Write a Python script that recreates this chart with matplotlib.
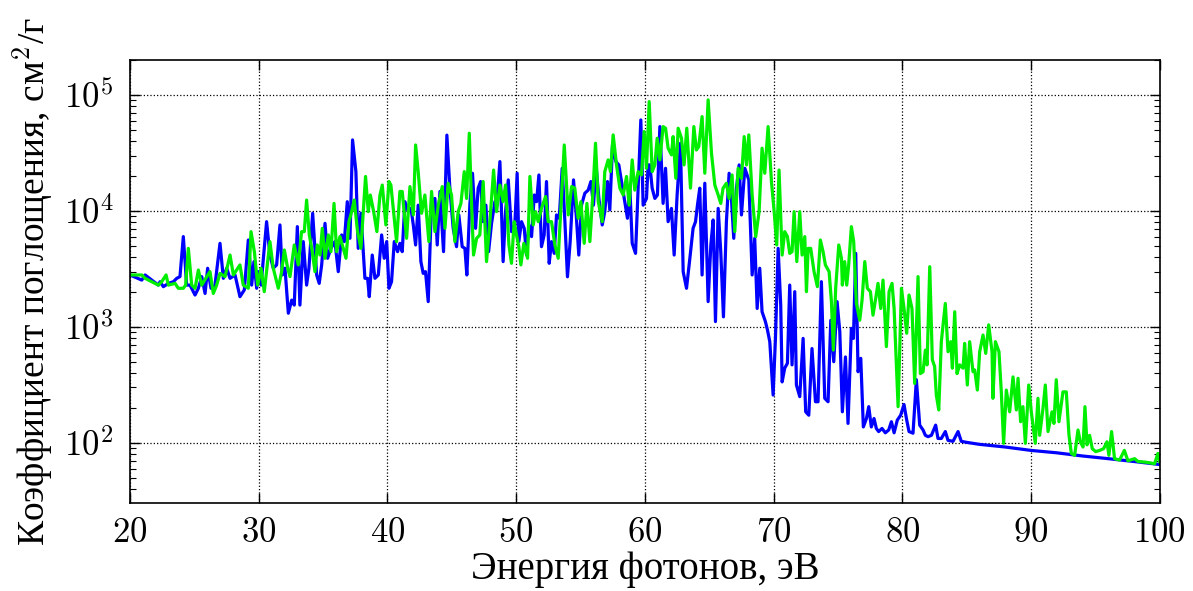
import numpy as np
import matplotlib.pyplot as plt
from matplotlib.ticker import FuncFormatter, FixedLocator, LogLocator, NullLocator

# photon energy, eV / absorption coefficient, cm^2/g  (blue curve)
e_blue = [20.0, 20.91, 21.17, 22.20, 22.33, 22.59, 22.98, 23.37, 23.63, 23.88,
          24.14, 24.40, 24.66, 25.05, 25.31, 25.57, 25.83, 26.03, 26.29, 26.60,
          26.99, 27.25, 27.51, 27.77, 28.16, 28.54, 28.88, 29.19, 29.45, 29.63,
          29.84, 29.97, 30.18, 30.61, 30.87, 31.13, 31.39, 31.65, 31.83, 32.04,
          32.30, 32.56, 32.76, 33.00, 33.20, 33.46, 33.72, 33.90, 34.19, 34.50,
          34.70, 34.89, 35.15, 35.35, 35.61, 35.92, 36.18, 36.44, 36.65, 36.88,
          37.09, 37.29, 37.55, 37.73, 37.94, 38.25, 38.46, 38.59, 38.82, 39.03,
          39.29, 39.55, 39.75, 39.94, 40.12, 40.32, 40.53, 40.79, 40.97, 41.15,
          41.36, 41.57, 41.83, 42.01, 42.19, 42.39, 42.60, 42.78, 42.96, 43.17,
          43.43, 43.69, 43.87, 44.08, 44.36, 44.62, 44.85, 45.11, 45.37, 45.55,
          45.81, 46.02, 46.17, 46.41, 46.61, 46.85, 47.05, 47.24, 47.44, 47.65,
          47.86, 48.09, 48.35, 48.53, 48.74, 48.99, 49.18, 49.39, 49.64, 49.90,
          50.08, 50.21, 50.42, 50.63, 50.81, 50.99, 51.20, 51.41, 51.59, 51.77,
          51.97, 52.18, 52.36, 52.57, 52.75, 52.96, 53.14, 53.35, 53.58, 53.79,
          53.99, 54.20, 54.46, 54.67, 54.87, 55.08, 55.34, 55.60, 55.81, 56.01,
          56.22, 56.43, 56.69, 56.89, 57.10, 57.28, 57.49, 57.75, 57.98, 58.19,
          58.45, 58.65, 58.84, 59.02, 59.28, 59.48, 59.69, 59.87, 60.13, 60.26,
          60.39, 60.57, 60.78, 60.98, 61.17, 61.42, 61.61, 61.81, 62.07, 62.28,
          62.51, 62.77, 62.98, 63.24, 63.50, 63.75, 63.94, 64.09, 64.27, 64.45,
          64.66, 64.92, 65.13, 65.31, 65.49, 65.70, 65.90, 66.11, 66.34, 66.55,
          66.73, 66.91, 67.12, 67.33, 67.51, 67.77, 68.08, 68.34, 68.54, 68.73,
          68.93, 69.11, 69.37, 69.53, 69.71, 69.97, 70.15, 70.36, 70.56, 70.67,
          70.87, 71.08, 71.26, 71.44, 71.65, 71.78, 72.04, 72.30, 72.50, 72.74,
          72.99, 73.26, 73.46, 73.72, 73.98, 74.24, 74.45, 74.68, 74.94, 75.15,
          75.35, 75.59, 75.79, 76.05, 76.21, 76.39, 76.57, 76.78, 76.98, 77.22,
          77.40, 77.60, 77.81, 77.99, 78.17, 78.43, 78.69, 78.95, 79.16, 79.37,
          79.62, 79.88, 80.14, 80.35, 80.53, 80.84, 81.10, 81.36, 81.62, 81.80,
          82.01, 82.27, 82.60, 82.78, 83.04, 83.35, 83.56, 83.95, 84.34, 84.59,
          84.98, 86.0, 88.0, 90.0, 92.0, 94.0, 96.0, 98.0, 100.0]
mu_blue = [2800, 2530, 2800, 2290, 2450, 2220, 2370, 2450, 2620, 2710,
           6000, 2290, 2290, 1880, 2150, 2710, 1940, 3200, 2150, 2290,
           5250, 2620, 3200, 2620, 2800, 1820, 2080, 5610, 2290, 3650,
           2150, 2990, 2290, 8070, 4160, 3200, 3420, 7560, 2800, 3200,
           1310, 1700, 1540, 7310, 1540, 5430, 2290, 3200, 9530, 2800,
           2370, 3420, 7810, 3900, 4750, 5430, 2990, 6200, 5430, 12000,
           5800, 40900, 21800, 4750, 9530, 2620, 2620, 1820, 4160, 2620,
           2800, 6200, 3900, 5430, 2150, 2450, 5430, 4450, 5250, 4450,
           12000, 10200, 10500, 7560, 5080, 11200, 3650, 2890, 2990, 1650,
           12000, 12800, 5080, 14700, 4450, 45000, 15700, 7070, 4910, 9220,
           4910, 4750, 2800, 11600, 21100, 7070, 15700, 17900, 8070, 11200,
           4450, 7810, 12000, 12800, 26600, 3650, 9850, 18500, 6620, 7560,
           21100, 5430, 8070, 7070, 4160, 7560, 6000, 13700, 12000, 20400,
           4910, 6200, 17900, 3530, 5430, 4300, 9220, 8630, 23300, 8070,
           2700, 5430, 18500, 9220, 4160, 11200, 14200, 15100, 17900, 11200,
           24100, 12800, 7560, 9850, 17900, 10200, 37000, 26600, 24900, 17900,
           12000, 8630, 15700, 5250, 4300, 15700, 60800, 11200, 12800, 24900,
           24900, 15700, 12800, 13700, 53300, 11600, 23300, 8070, 10500, 4160,
           13700, 38300, 2990, 2150, 3900, 7070, 8070, 11200, 15700, 2800,
           17300, 1650, 5080, 8350, 1110, 10500, 4450, 1220, 8070, 21100,
           12800, 5800, 15700, 24900, 9220, 23300, 18500, 2800, 5800, 1440,
           3200, 1350, 1110, 940, 745, 258, 795, 4750, 1540, 335,
           440, 485, 2290, 470, 2010, 315, 250, 795, 185, 173,
           650, 226, 226, 2450, 242, 226, 1140, 500, 1650, 910,
           185, 550, 147, 970, 795, 4300, 410, 535, 137, 162,
           205, 137, 162, 133, 125, 133, 122, 129, 152, 122,
           157, 173, 214, 157, 125, 121, 350, 142, 129, 116,
           113, 116, 142, 109, 109, 125, 105, 103, 125, 103,
           101, 97, 92, 86, 82, 77, 73, 69, 65]

# green curve
e_green = [20.0, 20.91, 21.17, 21.68, 22.20, 22.46, 22.80, 22.98, 23.50, 23.75,
           24.14, 24.32, 24.53, 24.79, 25.05, 25.31, 25.57, 25.96, 26.21, 26.47,
           26.73, 26.99, 27.38, 27.77, 28.03, 28.54, 28.80, 29.19, 29.40, 29.66,
           29.92, 30.18, 30.43, 30.87, 31.13, 31.52, 31.78, 31.99, 32.25, 32.43,
           32.76, 33.07, 33.33, 33.54, 33.72, 33.93, 34.16, 34.37, 34.55, 34.76,
           34.94, 35.15, 35.41, 35.61, 35.85, 36.05, 36.31, 36.57, 36.78, 37.01,
           37.22, 37.42, 37.68, 37.94, 38.30, 38.51, 38.67, 38.93, 39.18, 39.42,
           39.60, 39.88, 40.12, 40.27, 40.45, 40.71, 40.97, 41.15, 41.49, 41.75,
           42.01, 42.19, 42.39, 42.65, 42.91, 43.22, 43.43, 43.69, 43.95, 44.26,
           44.47, 44.72, 44.98, 45.24, 45.50, 45.71, 45.97, 46.15, 46.36, 46.54,
           46.69, 46.93, 47.18, 47.44, 47.70, 47.96, 48.25, 48.48, 48.74, 48.99,
           49.18, 49.44, 49.64, 49.85, 50.03, 50.21, 50.37, 50.60, 50.89, 51.07,
           51.33, 51.51, 51.72, 51.97, 52.29, 52.49, 52.75, 53.01, 53.27, 53.53,
           53.74, 54.05, 54.31, 54.56, 54.82, 55.03, 55.29, 55.50, 55.73, 55.94,
           56.17, 56.38, 56.69, 56.89, 57.15, 57.33, 57.54, 57.80, 58.06, 58.32,
           58.58, 58.78, 59.02, 59.22, 59.48, 59.74, 59.95, 60.13, 60.34, 60.57,
           60.78, 60.96, 61.17, 61.42, 61.61, 61.81, 62.07, 62.20, 62.41, 62.59,
           62.85, 63.05, 63.26, 63.55, 63.81, 64.01, 64.19, 64.45, 64.66, 64.92,
           65.18, 65.44, 65.70, 65.90, 66.08, 66.34, 66.55, 66.78, 66.99, 67.25,
           67.51, 67.72, 67.90, 68.08, 68.34, 68.62, 68.88, 69.11, 69.32, 69.58,
           69.84, 70.05, 70.25, 70.43, 70.67, 70.87, 71.08, 71.26, 71.44, 71.60,
           71.81, 72.04, 72.22, 72.43, 72.56, 72.69, 72.89, 73.15, 73.41, 73.64,
           73.85, 74.03, 74.32, 74.50, 74.65, 74.83, 75.07, 75.28, 75.35, 75.53,
           75.69, 75.84, 76.05, 76.23, 76.44, 76.70, 76.88, 77.09, 77.29, 77.53,
           77.73, 77.92, 78.12, 78.33, 78.51, 78.77, 78.98, 79.21, 79.37, 79.68,
           79.94, 80.14, 80.35, 80.53, 80.76, 80.97, 81.23, 81.41, 81.62, 81.80,
           81.93, 82.14, 82.34, 82.52, 82.65, 82.84, 83.04, 83.35, 83.56, 83.77,
           83.90, 84.08, 84.26, 84.47, 84.73, 84.85, 85.06, 85.24, 85.50, 85.63,
           85.84, 86.02, 86.28, 86.49, 86.72, 86.98, 87.05, 87.24, 87.52, 87.70,
           87.88, 88.09, 88.35, 88.61, 88.87, 89.00, 89.20, 89.38, 89.57, 89.83,
           90.03, 90.34, 90.55, 90.68, 90.94, 91.12, 91.33, 91.64, 91.79, 91.97,
           92.18, 92.49, 92.75, 92.96, 93.14, 93.40, 93.66, 93.84, 94.05, 94.20,
           94.36, 94.56, 94.77, 95.03, 95.34, 95.65, 95.91, 96.06, 96.27, 96.50,
           96.89, 97.26, 97.54, 98.06, 98.32, 98.96, 99.61, 99.87, 100.0]
mu_green = [2800, 2800, 2620, 2450, 2290, 2450, 2800, 2290, 2370, 2150,
            2150, 2290, 4750, 2290, 2150, 3090, 2290, 2710, 2990, 1940,
            2290, 2890, 2710, 4160, 2800, 3420, 2290, 2150, 6620, 4450,
            2290, 3200, 2010, 5430, 3200, 2150, 2990, 4600, 3200, 2710,
            5080, 3420, 6620, 6620, 12400, 6200, 4450, 2990, 5080, 4160,
            7070, 3900, 6200, 4450, 11600, 4450, 6000, 4750, 3900, 8070,
            9850, 12400, 6620, 4750, 19800, 9850, 13700, 9850, 6620, 13700,
            16700, 7560, 17900, 16700, 10500, 5430, 14700, 14700, 5800, 16200,
            9220, 37000, 21800, 9530, 13700, 5430, 14700, 6620, 11200, 16200,
            7070, 17300, 13700, 5430, 9850, 11600, 21800, 12800, 46700, 11200,
            4160, 5800, 6200, 17900, 3650, 8070, 22500, 9850, 16700, 12000,
            16700, 5080, 3530, 8070, 6200, 4910, 3420, 5250, 3900, 19800,
            7560, 9850, 8070, 10500, 13300, 8070, 8070, 5080, 3900, 13700,
            37000, 9220, 16200, 15700, 8630, 12000, 5250, 11600, 5430, 12800,
            38300, 12000, 8070, 21800, 27500, 21800, 45200, 24900, 15700, 13700,
            19800, 11200, 27500, 15100, 21800, 20400, 48300, 23300, 87500, 21800,
            24900, 42300, 27500, 53300, 51600, 34700, 30400, 43700, 19100, 51600,
            42300, 24900, 51600, 15700, 53300, 33500, 35800, 65000, 21100, 90600,
            31400, 16700, 13700, 11600, 15700, 17300, 12800, 20400, 6620, 23300,
            19100, 43700, 24900, 45200, 13700, 6000, 9850, 34700, 21100, 53300,
            17900, 9850, 5080, 22500, 4160, 6620, 6000, 4300, 4450, 9850,
            3650, 9850, 4160, 6000, 2010, 4750, 4750, 2990, 2220, 5610,
            4450, 3420, 2990, 1650, 630, 2150, 5080, 3900, 2290, 3650,
            2290, 3420, 7310, 5430, 1590, 1140, 1700, 3650, 2150, 2010,
            1260, 1700, 2370, 1440, 2530, 675, 2010, 2370, 1440, 205,
            2150, 1440, 880, 1880, 1440, 325, 2710, 395, 410, 630,
            470, 3300, 520, 455, 258, 192, 745, 1590, 610, 745,
            440, 1350, 395, 470, 440, 720, 315, 745, 410, 425,
            285, 610, 850, 590, 1040, 610, 242, 745, 610, 275,
            99, 285, 185, 370, 192, 360, 152, 205, 99, 315,
            185, 99, 242, 116, 198, 315, 125, 185, 147, 350,
            152, 275, 275, 116, 81, 78, 129, 102, 92, 205,
            96, 116, 89, 84, 86, 89, 102, 78, 125, 73,
            71, 86, 70, 73, 69, 68, 66, 81, 69]

x_ticks = [20, 30, 40, 50, 60, 70, 80, 90, 100]
y_ticks = [1e2, 1e3, 1e4, 1e5]

plt.rcParams['mathtext.fontset'] = 'cm'
plt.rcParams['font.family'] = ['Liberation Serif', 'DejaVu Serif']
plt.rcParams['axes.linewidth'] = 1.2

fig = plt.figure(figsize=(11.93, 5.91), dpi=100)
ax = fig.add_axes([0.109, 0.149, 0.863, 0.7495])

ax.plot(e_blue, mu_blue, color='#0000ff', lw=2.3)
ax.plot(e_green, mu_green, color='#00ee00', lw=2.3)

ax.set_yscale('log')
ax.set_xlim(20, 100)
ax.set_ylim(30.3, 2.0e5)

ax.xaxis.set_major_locator(FixedLocator(x_ticks))
ax.xaxis.set_minor_locator(NullLocator())
ax.yaxis.set_major_locator(FixedLocator(y_ticks))
ax.yaxis.set_minor_locator(LogLocator(base=10, subs=np.arange(2, 10)))
ax.xaxis.set_major_formatter(FuncFormatter(lambda v, p: r'$%d$' % v))
ax.yaxis.set_major_formatter(FuncFormatter(lambda v, p: r'$10^{%d}$' % round(np.log10(v))))

ax.tick_params(which='both', direction='in', top=True, right=True, labelsize=25)
ax.tick_params(which='major', length=7, width=1.0)
ax.tick_params(axis='x', which='major', pad=10)
ax.tick_params(axis='y', which='major', pad=12)
ax.tick_params(which='minor', length=4, width=0.8)

ax.grid(True, which='major', color='k', linestyle=':', linewidth=0.9)

ax.set_xlabel('Энергия фотонов, эВ', fontsize=28, labelpad=1)
ax.set_ylabel('Коэффициент поглощения, см$^2$/г', fontsize=27, labelpad=6)

fig.savefig('out.png', dpi=100)
